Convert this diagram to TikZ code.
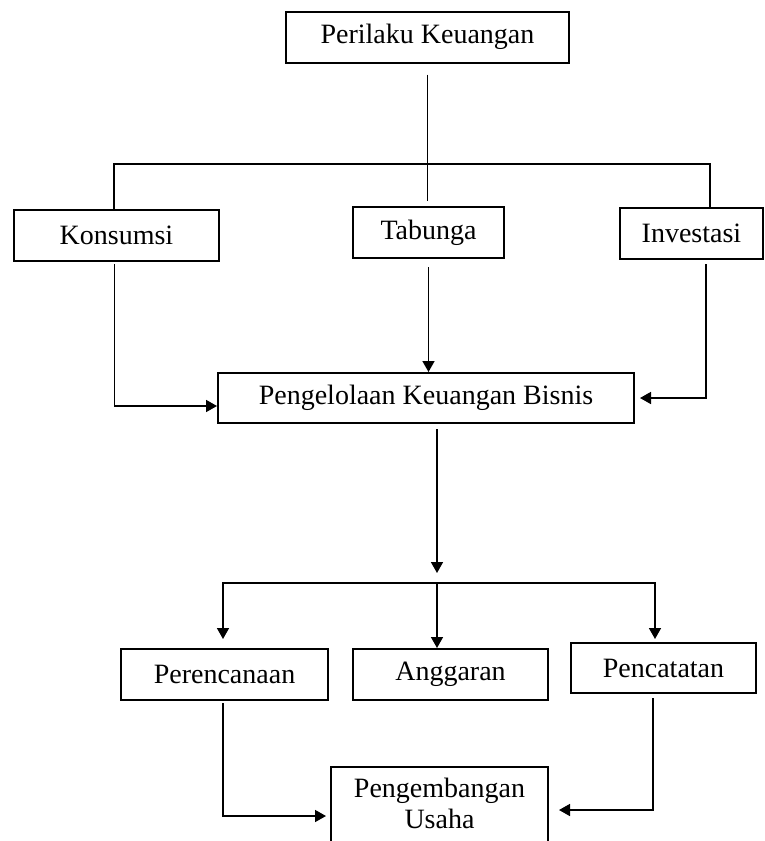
\documentclass[tikz,border=0pt]{standalone}
\usepackage{fontspec}
\setmainfont{Liberation Serif}
\usetikzlibrary{arrows.meta}

\newcommand*\boxheight{51pt}
\tikzset{box/.style={
    draw,
    line width=2pt,
    rectangle,
    fill=white,
    inner sep=0pt,
    minimum width=#1,
    minimum height=\boxheight,
    align=center
},
wire/.style={line width=1.6pt},
link/.style={
    line width=1.6pt,
    -{Triangle[length=11pt,width=12pt]}
}}

\begin{document}
\begin{tikzpicture}[x=1pt,y=-1pt,font=\fontsize{28}{31}\selectfont]
    \useasboundingbox (0,0) rectangle (765,841);

    % Top of the tree.
    \node[box=283pt] (perilaku) at (427.5,37) {Perilaku Keuangan};

    % The three kinds of behaviour.
    \node[box=205pt] (konsumsi) at (116.5,235.5) {Konsumsi};
    \node[box=151pt] (tabunga) at (428.5,232.5) {Tabunga};
    \node[box=143pt] (investasi) at (691.5,233.5) {Investasi};

    \node[box=416pt, minimum height=50pt] (pengelolaan) at (426,398) {Pengelolaan Keuangan Bisnis};

    % The three tasks below it.
    \node[box=207pt] (perencanaan) at (224.5,674.5) {Perencanaan};
    \node[box=195pt] (anggaran) at (450.5,674.5) {Anggaran};
    \node[box=185pt, minimum height=50pt] (pencatatan) at (663.5,668) {Pencatatan};

    % The box runs off the bottom of the page.
    \node[box=217pt, anchor=north, inner ysep=11pt] (pengembangan) at (439.5,766)
        {Pengembangan\\Usaha\\\mbox{}};

    \coordinate (bar) at (427,164);
    \coordinate (split) at (437,583);

    % Upper half.
    \draw[wire, shorten <=11pt, shorten >=5pt] (perilaku.south) -- (perilaku.south |- tabunga.north);
    \draw[wire] ([xshift=-2.5pt]konsumsi.north) |- (bar) -| ([xshift=18.5pt]investasi.north);

    \draw[link, shorten <=2pt] ([xshift=-2pt]konsumsi.south) |- ([yshift=-8pt]pengelolaan.west);
    \draw[link, shorten <=8pt] (tabunga.south) -- (tabunga.south |- pengelolaan.north);
    \draw[link, shorten <=4pt, shorten >=5pt] ([xshift=14.5pt]investasi.south) |- (pengelolaan.east);

    % Lower half.
    \draw[link, shorten <=5pt, shorten >=10pt] ([xshift=11pt]pengelolaan.south) -- (split);
    \draw[link, shorten >=9pt] (split) -| ([xshift=-1.5pt]perencanaan.north);
    \draw[link] (split) -- (split |- anggaran.north);
    \draw[link, shorten >=3pt] (split) -| ([xshift=-8.5pt]pencatatan.north);

    \draw[link, shorten <=2pt, shorten >=4pt] ([xshift=-1.5pt]perencanaan.south) |- ([yshift=-50pt]pengembangan.north west);
    \draw[link, shorten <=4pt, shorten >=10pt] ([xshift=-10.5pt]pencatatan.south) |- ([yshift=-44pt]pengembangan.north east);

\end{tikzpicture}
\end{document}
